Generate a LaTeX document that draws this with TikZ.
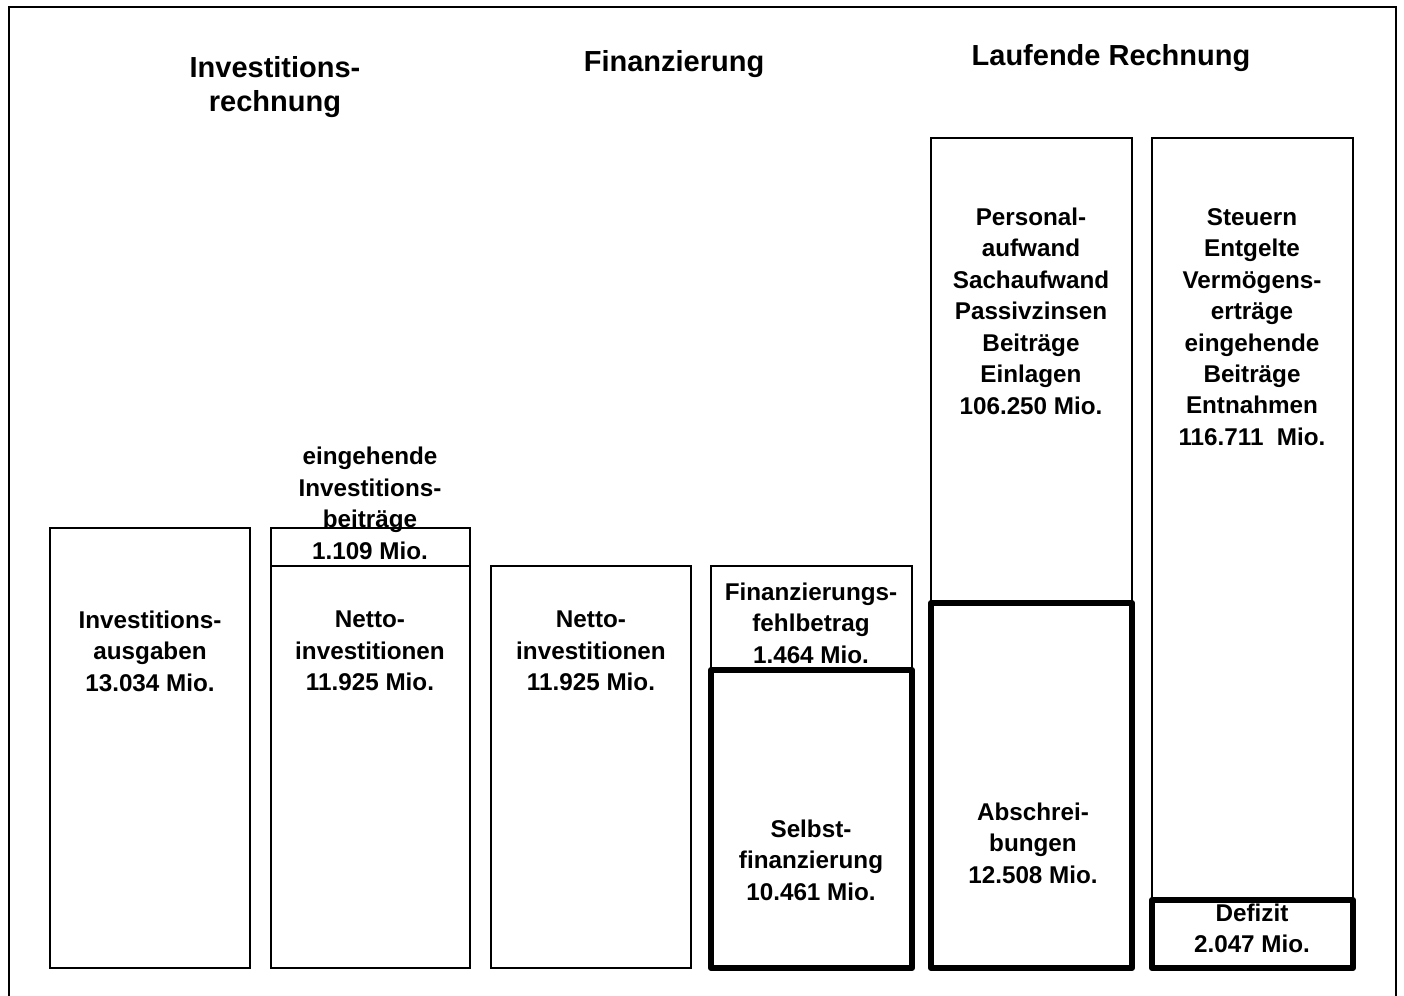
\documentclass[tikz,border=0pt]{standalone}
\usepackage{fontspec}
\setmainfont{Liberation Sans}

\begin{document}
\begin{tikzpicture}[x=0.02cm,y=-0.02cm,
  bar/.style={line width=1.2pt},
  thickbar/.style={line width=3.4pt, line join=round},
  txt/.style={align=center, inner sep=0pt, font=\fontsize{13.8}{17.9}\selectfont\bfseries},
  head/.style={align=center, inner sep=0pt, font=\fontsize{16.5}{19.3}\selectfont\bfseries}]

  \clip (0,0) rectangle (1404,996);
  % outer frame (bottom edge is cut off)
  \draw[bar] (9,7) rectangle (1396,1020);

  %-----------------------------
  % headings
  \node[head] (invhead)  at (275,87)  {Investitions-\\rechnung};
  \node[head] (finhead)  at (674,64)  {Finanzierung};
  \node[head] (laufhead) at (1111,58) {Laufende Rechnung};

  %-----------------------------
  % Investitionsrechnung
  \draw[bar] (50,528) rectangle (250,968);
  \node[txt] (ausgaben) at (150,651) {Investitions-\\ausgaben\\13.034 Mio.};

  \draw[bar] (271,528) rectangle (470,968);
  \draw[bar] (271,566) -- (470,566);
  \node[txt] (beitraege) at (370,503.5) {eingehende\\Investitions-\\beiträge\\1.109 Mio.};
  \node[txt] (netto1) at (370,651) {Netto-\\investitionen\\11.925 Mio.};

  %-----------------------------
  % Finanzierung
  \draw[bar] (491,566) rectangle (691,968);
  \node[txt] (netto2) at (591,651) {Netto-\\investitionen\\11.925 Mio.};

  \draw[bar] (711,566) rectangle (912,670);
  \node[txt] (fehlbetrag) at (811,623) {Finanzierungs-\\fehlbetrag\\1.464 Mio.};
  \draw[thickbar] (711,670) rectangle (912,968);
  \node[txt] (selbst) at (811,860) {Selbst-\\finanzierung\\10.461 Mio.};

  %-----------------------------
  % Laufende Rechnung
  \draw[bar] (931,138) rectangle (1132,968);
  \node[txt] (aufwand) at (1031,311) {Personal-\\aufwand\\Sachaufwand\\Passivzinsen\\Beiträge\\Einlagen\\106.250 Mio.};
  \draw[thickbar] (931,603) rectangle (1132,968);
  \node[txt] (abschreib) at (1033,843) {Abschrei-\\bungen\\12.508 Mio.};

  \draw[bar] (1152,138) rectangle (1353,968);
  \node[txt] (ertrag) at (1252,327) {Steuern\\Entgelte\\Vermögens-\\erträge\\eingehende\\Beiträge\\Entnahmen\\116.711~~Mio.};
  \draw[thickbar] (1152,900) rectangle (1353,968);
  \node[txt] (defizit) at (1252,928.5) {Defizit\\2.047 Mio.};
\end{tikzpicture}
\end{document}
